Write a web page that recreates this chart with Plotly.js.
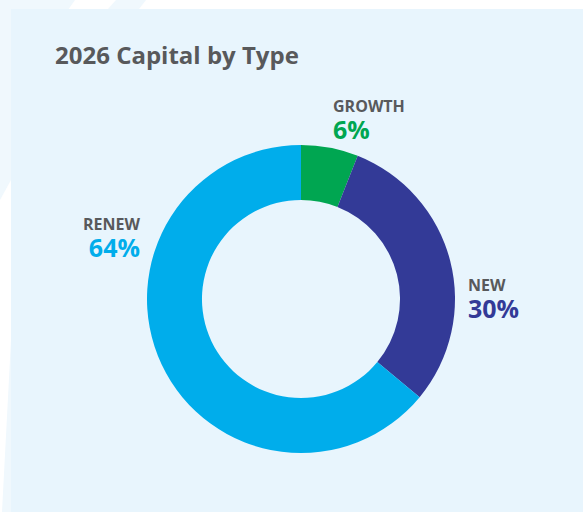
<!DOCTYPE html>
<html>
<head>
<meta charset="utf-8">
<script src="https://cdn.plot.ly/plotly-3.0.1.min.js"></script>
<style>html,body{margin:0;padding:0;background:#fff;}#chart{width:583px;height:512px;}</style>
</head>
<body>
<div id="chart"></div>
<script>
const categories = ["GROWTH", "NEW", "RENEW"];
const values = [6, 30, 64];
const pctLabels = ["6%", "30%", "64%"];
const colors = ["#00a651", "#333a97", "#00adeb"];
const titleText = "2026 Capital by Type";

const W = 583, H = 512;
const px = x => x / W;
const py = y => 1 - y / H;

// donut geometry in pixels
const cx = 301, cy = 299, R = 154;

const trace = {
  type: "pie",
  labels: categories,
  values: values,
  sort: false,
  direction: "clockwise",
  rotation: 0,
  hole: 0.643,
  textinfo: "none",
  hoverinfo: "label+percent",
  showlegend: false,
  marker: {colors: colors, line: {width: 0}},
  domain: {x: [px(cx - R), px(cx + R)], y: [py(cy + R), py(cy - R)]}
};

// label placements: pixel centre of the two-line block
const place = {
  GROWTH: {x: 332, y: 120, xa: "left"},
  NEW: {x: 467, y: 299, xa: "left"},
  RENEW: {x: 141, y: 238, xa: "right"}
};

const annotations = [];
categories.forEach((c, i) => {
  const p = place[c];
  const txt = "<span style='font-size:16px;color:#58595b'>" + c + "</span><br>" +
              "<span style='font-size:25px;color:" + colors[i] + "'>" + pctLabels[i] + "</span>";
  annotations.push({xref: "paper", yref: "paper", x: px(p.x), y: py(p.y), xanchor: p.xa, yanchor: "middle",
    align: p.xa, borderpad: 0, text: txt, showarrow: false,
    font: {family: "Open Sans, sans-serif", size: 20.5, color: "#58595b", weight: 700}});
});
annotations.push({xref: "paper", yref: "paper", x: px(53), y: py(54), xanchor: "left", yanchor: "middle",
  text: titleText, showarrow: false, font: {family: "Open Sans, sans-serif", size: 24, color: "#58595b", weight: 700}});

const stripe = "#f0f8fd";
const poly = pts => "M" + pts.map(p => px(p[0]) + "," + py(p[1])).join(" L") + " Z";
const shapes = [
  {type: "path", xref: "paper", yref: "paper", layer: "below", line: {width: 0}, fillcolor: stripe,
   path: poly([[0,0],[75,0],[11,90],[11,180],[0,200]])},
  {type: "path", xref: "paper", yref: "paper", layer: "below", line: {width: 0}, fillcolor: stripe,
   path: poly([[116,0],[146,0],[139,9],[108,9]])},
  {type: "path", xref: "paper", yref: "paper", layer: "below", line: {width: 0}, fillcolor: stripe,
   path: poly([[11,340],[11,512],[2,512]])},
  {type: "rect", xref: "paper", yref: "paper", layer: "below", line: {width: 0}, fillcolor: "#e8f5fd",
   x0: px(11), x1: 1, y0: 0, y1: py(9)}
];

const layout = {
  width: W, height: H,
  margin: {l: 0, r: 0, t: 0, b: 0},
  paper_bgcolor: "#ffffff",
  plot_bgcolor: "rgba(0,0,0,0)",
  showlegend: false,
  annotations: annotations,
  shapes: shapes
};

Plotly.newPlot("chart", [trace], layout, {displayModeBar: false, staticPlot: true});
</script>
</body>
</html>
